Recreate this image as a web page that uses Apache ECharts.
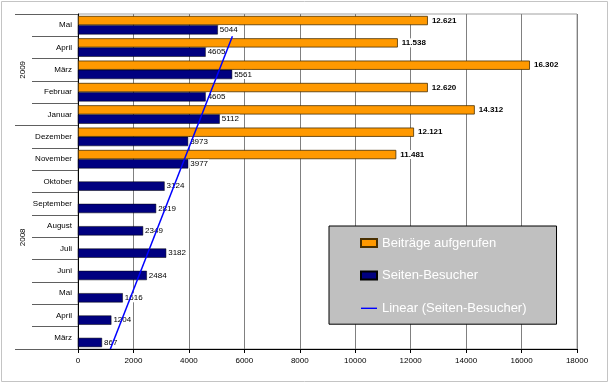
<!DOCTYPE html>
<html>
<head>
<meta charset="utf-8">
<script src="https://cdn.jsdelivr.net/npm/echarts@6/dist/echarts.min.js"></script>
<style>
html,body{margin:0;padding:0;background:#fff;}
#c{width:610px;height:383px;}
</style>
</head>
<body>
<div id="c"></div>
<script>
// categories listed bottom to top (März 2008 ... Mai 2009)
var months = ['März','April','Mai','Juni','Juli','August','September','Oktober','November','Dezember','Januar','Februar','März','April','Mai'];
var years = ['2008','2009'];
var monthsPerYear = [10, 5];
var beitraege = [null,null,null,null,null,null,null,null,11481,12121,14312,12620,16302,11538,12621];
var besucher = [867,1204,1616,2484,3182,2349,2819,3124,3977,3973,5112,4605,5561,4605,5044];
var trendEnds = [1167, 5570];
var xTicks = {min:0, max:18000, interval:2000};

var FONT = '"Liberation Sans", Arial, sans-serif';

// year boundaries & centers on the hidden value axis
var bounds = [0], centers = [];
monthsPerYear.forEach(function(n){ var b = bounds[bounds.length-1]; centers.push(b + n/2); bounds.push(b + n); });

function deFmt(v){ return String(v).replace(/\B(?=(\d{3})+(?!\d))/g, '.'); }

var chart = echarts.init(document.getElementById('c'), null, {renderer:'canvas'});
chart.setOption({
  animation:false,
  backgroundColor:'#fff',
  textStyle:{fontFamily:FONT},
  graphic:[{type:'rect', shape:{x:1.5,y:1.5,width:606,height:380}, style:{fill:'none', stroke:'#c4c4c4', lineWidth:1}, silent:true, z:-1}],
  grid:{left:78, right:33, top:14, bottom:34, show:true, borderColor:'#a0a0a0', borderWidth:1},
  legend:{
    orient:'vertical', left:329, top:226,
    data:[
      {name:'Beiträge aufgerufen', icon:'rect'},
      {name:'Seiten-Besucher', icon:'rect'},
      {name:'Linear (Seiten-Besucher)', icon:'path://M0,0 M0,3.4 L16,3.4 L16,4.8 L0,4.8 Z M16,8',
        itemStyle:{color:'#0000FF', borderWidth:0}}
    ],
    backgroundColor:'#C0C0C0', borderColor:'#000', borderWidth:1,
    padding:[10,30,9,31], itemWidth:16, itemHeight:8, itemGap:18.6,
    textStyle:{color:'#fff', fontSize:13, fontFamily:FONT, lineHeight:14}
  },
  xAxis:{
    type:'value', min:xTicks.min, max:xTicks.max, interval:xTicks.interval,
    axisLine:{show:true, lineStyle:{color:'#000'}},
    axisTick:{show:true, length:4, lineStyle:{color:'#000'}},
    axisLabel:{fontSize:8, color:'#000', margin:8, fontFamily:FONT, formatter:function(v){ return String(v); }},
    splitLine:{show:true, lineStyle:{color:'#808080'}}
  },
  yAxis:[{
    type:'category', data:months,
    axisLine:{show:true, lineStyle:{color:'#000'}},
    axisTick:{show:true, length:46, lineStyle:{color:'#606060'}},
    axisLabel:{fontSize:8, color:'#000', margin:6, fontFamily:FONT},
    splitLine:{show:false}
  },{
    type:'value', min:0, max:months.length, position:'left',
    axisLine:{show:false},
    axisTick:{show:true, length:63, customValues:bounds, lineStyle:{color:'#606060'}},
    axisLabel:{show:true, customValues:centers, rotate:90, margin:51, fontSize:8, color:'#000', fontFamily:FONT,
      formatter:function(v){ var i = centers.indexOf(v); return i>=0 ? years[i] : ''; }},
    splitLine:{show:false}
  }],
  series:[{
    name:'Beiträge aufgerufen', type:'bar', yAxisIndex:0, data:beitraege,
    barGap:'0%', barCategoryGap:'17%',
    itemStyle:{color:'#FF9900', borderColor:'#4a3000', borderWidth:0.8},
    label:{show:true, position:'right', distance:3, fontSize:8, fontWeight:'bold', color:'#000', fontFamily:FONT,
      backgroundColor:'#fff', padding:[1,1,0,1],
      formatter:function(p){ return deFmt(p.value); }},
    z:2
  },{
    name:'Seiten-Besucher', type:'bar', yAxisIndex:0, data:besucher,
    barGap:'0%', barCategoryGap:'17%',
    itemStyle:{color:'#000080', borderColor:'#000', borderWidth:0.5},
    label:{show:true, position:'right', distance:1, fontSize:8, color:'#000', fontFamily:FONT,
      backgroundColor:'#fff', padding:[1,1,0,1]},
    z:2
  },{
    name:'Linear (Seiten-Besucher)', type:'line', yAxisIndex:1,
    data:[[trendEnds[0], 0], [trendEnds[1], months.length-1]],
    symbol:'none', showSymbol:false,
    lineStyle:{color:'#0000FF', width:1.5},
    itemStyle:{color:'#0000FF'},
    z:5
  }]
});
</script>
</body>
</html>
